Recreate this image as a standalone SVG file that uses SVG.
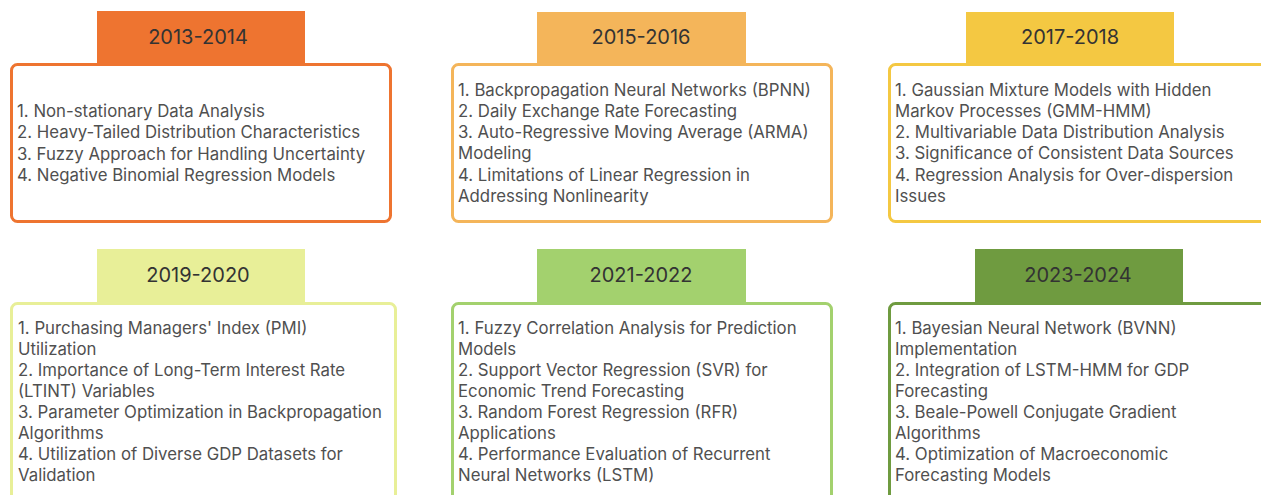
<svg xmlns="http://www.w3.org/2000/svg" width="1261" height="495" viewBox="0 0 1261 495">
<style>
.hd{stroke:none}
.bx{fill:#ffffff;stroke-width:3}
.ht{font-family:Inter,"Liberation Sans",sans-serif;font-size:20px;fill:#333333;text-anchor:middle}
.bt{font-family:Inter,"Liberation Sans",sans-serif;font-size:16.8px;fill:#505050}
</style>
<rect width="1261" height="495" fill="#ffffff"/>
<g id="n2013">
<rect class="hd" x="97" y="11" width="208" height="53" fill="#EE7430"/>
<rect class="bx" x="11.5" y="64.5" width="379" height="157" rx="6" stroke="#EE7430"/>
<text class="ht" x="198" y="44">2013-2014</text>
<text class="bt"><tspan x="17" y="117">1. Non-stationary Data Analysis</tspan><tspan x="17" y="138">2. Heavy-Tailed Distribution Characteristics</tspan><tspan x="17" y="160">3. Fuzzy Approach for Handling Uncertainty</tspan><tspan x="17" y="181">4. Negative Binomial Regression Models</tspan></text>
</g>
<g id="n2015">
<rect class="hd" x="537" y="12" width="209" height="52" fill="#F4B55A"/>
<rect class="bx" x="452.5" y="64.5" width="379" height="157" rx="6" stroke="#F4B55A"/>
<text class="ht" x="641" y="44">2015-2016</text>
<text class="bt"><tspan x="458" y="96">1. Backpropagation Neural Networks (BPNN)</tspan><tspan x="458" y="117">2. Daily Exchange Rate Forecasting</tspan><tspan x="458" y="138">3. Auto-Regressive Moving Average (ARMA)</tspan><tspan x="458" y="159">Modeling</tspan><tspan x="458" y="181">4. Limitations of Linear Regression in</tspan><tspan x="458" y="202">Addressing Nonlinearity</tspan></text>
</g>
<g id="n2017">
<rect class="hd" x="966" y="12" width="208" height="52" fill="#F4C842"/>
<rect class="bx" x="889.5" y="64.5" width="390" height="157" rx="6" stroke="#F4C842"/>
<text class="ht" x="1070" y="44">2017-2018</text>
<text class="bt"><tspan x="895" y="96">1. Gaussian Mixture Models with Hidden</tspan><tspan x="895" y="117">Markov Processes (GMM-HMM)</tspan><tspan x="895" y="138">2. Multivariable Data Distribution Analysis</tspan><tspan x="895" y="159">3. Significance of Consistent Data Sources</tspan><tspan x="895" y="181">4. Regression Analysis for Over-dispersion</tspan><tspan x="895" y="202">Issues</tspan></text>
</g>
<g id="n2019">
<rect class="hd" x="97" y="249" width="208" height="54" fill="#E8EF98"/>
<rect class="bx" x="11.5" y="303.5" width="384" height="220" rx="6" stroke="#E8EF98"/>
<text class="ht" x="198" y="282">2019-2020</text>
<text class="bt"><tspan x="18" y="334">1. Purchasing Managers' Index (PMI)</tspan><tspan x="18" y="355">Utilization</tspan><tspan x="18" y="376">2. Importance of Long-Term Interest Rate</tspan><tspan x="18" y="397">(LTINT) Variables</tspan><tspan x="18" y="418">3. Parameter Optimization in Backpropagation</tspan><tspan x="18" y="439">Algorithms</tspan><tspan x="18" y="460">4. Utilization of Diverse GDP Datasets for</tspan><tspan x="18" y="481">Validation</tspan></text>
</g>
<g id="n2021">
<rect class="hd" x="537" y="249" width="209" height="54" fill="#A3D16E"/>
<rect class="bx" x="452.5" y="303.5" width="379" height="220" rx="6" stroke="#A3D16E"/>
<text class="ht" x="641" y="282">2021-2022</text>
<text class="bt"><tspan x="458" y="334">1. Fuzzy Correlation Analysis for Prediction</tspan><tspan x="458" y="355">Models</tspan><tspan x="458" y="376">2. Support Vector Regression (SVR) for</tspan><tspan x="458" y="397">Economic Trend Forecasting</tspan><tspan x="458" y="418">3. Random Forest Regression (RFR)</tspan><tspan x="458" y="439">Applications</tspan><tspan x="458" y="460">4. Performance Evaluation of Recurrent</tspan><tspan x="458" y="481">Neural Networks (LSTM)</tspan></text>
</g>
<g id="n2023">
<rect class="hd" x="975" y="249" width="208" height="54" fill="#6F9B40"/>
<rect class="bx" x="889.5" y="303.5" width="390" height="220" rx="6" stroke="#6F9B40"/>
<text class="ht" x="1078" y="282">2023-2024</text>
<text class="bt"><tspan x="895" y="334">1. Bayesian Neural Network (BVNN)</tspan><tspan x="895" y="355">Implementation</tspan><tspan x="895" y="376">2. Integration of LSTM-HMM for GDP</tspan><tspan x="895" y="397">Forecasting</tspan><tspan x="895" y="418">3. Beale-Powell Conjugate Gradient</tspan><tspan x="895" y="439">Algorithms</tspan><tspan x="895" y="460">4. Optimization of Macroeconomic</tspan><tspan x="895" y="481">Forecasting Models</tspan></text>
</g>
<g id="connectors"></g>
</svg>
